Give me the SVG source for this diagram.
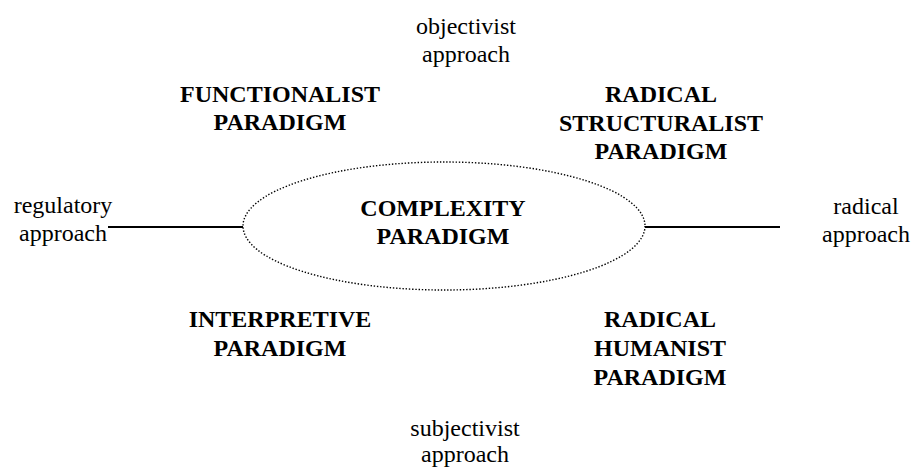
<svg xmlns="http://www.w3.org/2000/svg" width="914" height="468" viewBox="0 0 914 468">
  <style>
    text { font-family: "Liberation Serif", "Times New Roman", serif; font-size: 24px; fill: #000; text-anchor: middle; }
    .b { font-weight: bold; }
    .conn { stroke: #000; stroke-width: 1.8; fill: none; }
    .dot { stroke: #000; stroke-width: 1.4; fill: none; stroke-dasharray: 1.4 1.8; }
  </style>
  <rect width="914" height="468" fill="#fff"/>
  <g id="connectors">
    <line class="conn" x1="108" y1="227" x2="243" y2="227"/>
    <line class="conn" x1="645" y1="227" x2="780" y2="227"/>
  </g>
  <g id="complexity">
    <ellipse class="dot" cx="444" cy="226" rx="201" ry="64"/>
    <text class="b" x="443" y="216">COMPLEXITY</text>
    <text class="b" x="443" y="244">PARADIGM</text>
  </g>
  <g id="objectivist">
    <text x="466" y="34">objectivist</text>
    <text x="466" y="62">approach</text>
  </g>
  <g id="subjectivist">
    <text x="465" y="436">subjectivist</text>
    <text x="465" y="462">approach</text>
  </g>
  <g id="regulatory">
    <text x="63" y="213">regulatory</text>
    <text x="63" y="241">approach</text>
  </g>
  <g id="radical">
    <text x="866" y="214">radical</text>
    <text x="866" y="242">approach</text>
  </g>
  <g id="functionalist">
    <text class="b" x="280" y="102">FUNCTIONALIST</text>
    <text class="b" x="280" y="130">PARADIGM</text>
  </g>
  <g id="radical-structuralist">
    <text class="b" x="661" y="102">RADICAL</text>
    <text class="b" x="661" y="131">STRUCTURALIST</text>
    <text class="b" x="661" y="159">PARADIGM</text>
  </g>
  <g id="interpretive">
    <text class="b" x="280" y="327">INTERPRETIVE</text>
    <text class="b" x="280" y="356">PARADIGM</text>
  </g>
  <g id="radical-humanist">
    <text class="b" x="660" y="327">RADICAL</text>
    <text class="b" x="660" y="356">HUMANIST</text>
    <text class="b" x="660" y="385">PARADIGM</text>
  </g>
</svg>
